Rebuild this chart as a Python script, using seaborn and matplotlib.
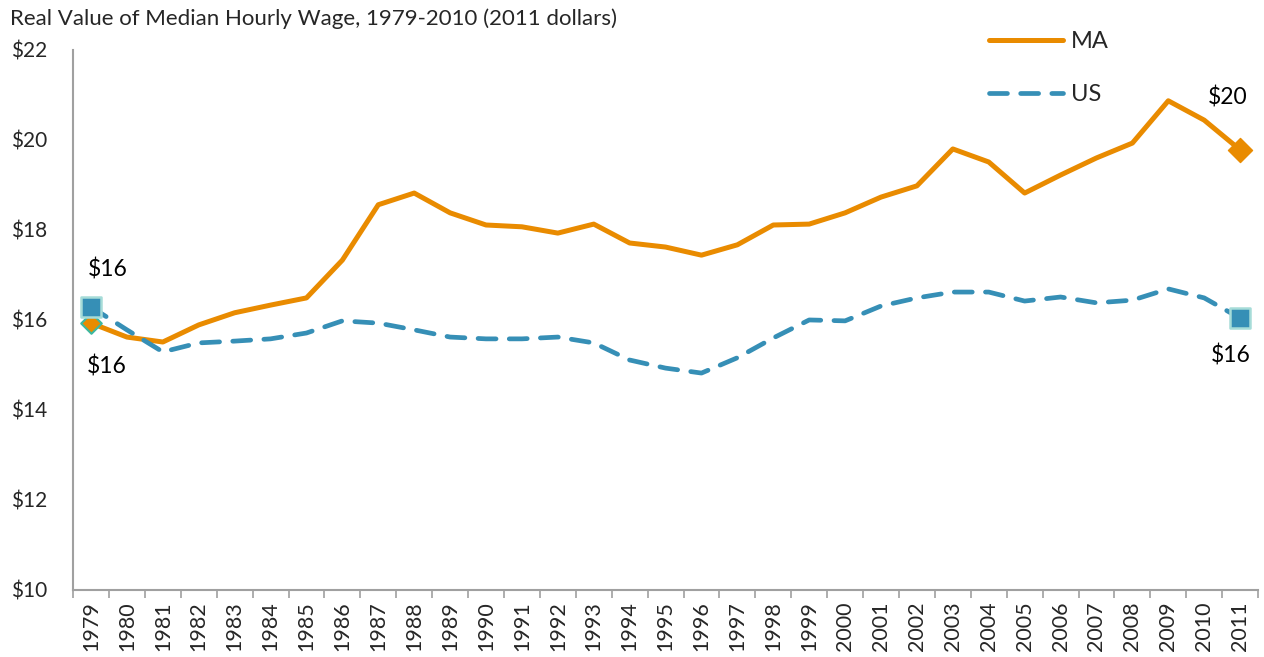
import matplotlib
matplotlib.use("Agg")
import matplotlib.pyplot as plt
import seaborn as sns
import pandas as pd
import numpy as np

# dados
anos = list(range(1979, 2012))
ma = [15.93, 15.62, 15.51, 15.89, 16.16, 16.33, 16.49, 17.33, 18.56, 18.82,
      18.38, 18.11, 18.07, 17.93, 18.13, 17.71, 17.62, 17.44, 17.67, 18.11,
      18.13, 18.38, 18.73, 18.98, 19.80, 19.51, 18.82, 19.22, 19.60, 19.93,
      20.87, 20.44, 19.78]
us = [16.29, 15.78, 15.29, 15.49, 15.53, 15.58, 15.71, 15.98, 15.93, 15.78,
      15.62, 15.58, 15.58, 15.62, 15.49, 15.11, 14.93, 14.82, 15.16, 15.60,
      16.00, 15.98, 16.31, 16.49, 16.62, 16.62, 16.42, 16.51, 16.38, 16.44,
      16.69, 16.49, 16.04]
y_ticks = [10, 12, 14, 16, 18, 20, 22]
titulo = "Real Value of Median Hourly Wage, 1979-2010 (2011 dollars)"

cor_ma = "#E98B00"
cor_us = "#368FB6"
cor_borda = "#A6DCD8"

df = pd.DataFrame({"ano": anos, "MA": ma, "US": us})

sns.set_theme(style="white")
plt.rcParams["font.family"] = ["Lato", "DejaVu Sans"]

fig = plt.figure(figsize=(12.64, 6.57), dpi=100)
ax = fig.add_axes([0.0578, 0.102, 0.9375, 0.822])

sns.lineplot(data=df, x="ano", y="MA", ax=ax, color=cor_ma, linewidth=3.6,
             label="MA", solid_capstyle="round")
sns.lineplot(data=df, x="ano", y="US", ax=ax, color=cor_us, linewidth=3.4,
             label="US")
linha_us = ax.lines[1]
linha_us.set_dashes((3.8, 2.8))
linha_us.set_dash_capstyle("round")

# marcadores nas pontas
ext = df.iloc[[0, -1]]
sns.scatterplot(x=ext["ano"].iloc[[0]], y=ext["MA"].iloc[[0]], ax=ax, marker="D",
                s=110, color=cor_ma, edgecolor="#3CB8A0", linewidth=1.5, zorder=5)
sns.scatterplot(x=ext["ano"].iloc[[1]], y=ext["MA"].iloc[[1]], ax=ax, marker="D",
                s=150, color=cor_ma, edgecolor=cor_ma, linewidth=1, zorder=5)
sns.scatterplot(x=ext["ano"], y=ext["US"], ax=ax, marker="s", s=190,
                color=cor_us, edgecolor=cor_borda, linewidth=1.8, zorder=6)

# rotulos de dados
rotulos = [
    (anos[0], us[0], (12, 27)),
    (anos[0], ma[0], (11, -31)),
    (anos[-1], ma[-1], (-9, 38)),
    (anos[-1], us[-1], (-7, -27)),
]
for x, y, off in rotulos:
    ax.annotate(f"${y:.0f}", (x, y), xytext=off, textcoords="offset points",
                ha="center", va="center", fontsize=16.5, color="black")

ax.set_xlim(1978.5, 2011.5)
ax.set_ylim(10, 22)
ax.set_yticks(y_ticks)
ax.set_yticklabels([f"${v}" for v in y_ticks], fontsize=15)
ax.set_xticks(anos)
ax.set_xticklabels([str(a) for a in anos], rotation=90, fontsize=15.5)
ax.set_xticks(np.arange(1978.5, 2012, 1), minor=True)
ax.tick_params(axis="x", which="major", length=0, pad=8)
ax.tick_params(axis="x", which="minor", length=6, color="#a0a0a0", width=1.2,
               direction="out", bottom=True)
ax.tick_params(axis="y", length=0, pad=45)
for lab in ax.get_yticklabels():
    lab.set_horizontalalignment("left")
ax.set_xlabel("")
ax.set_ylabel("")

for s in ["top", "right"]:
    ax.spines[s].set_visible(False)
for s in ["left", "bottom"]:
    ax.spines[s].set_color("#a0a0a0")
    ax.spines[s].set_linewidth(1.5)

leg = ax.legend(loc="upper left", bbox_to_anchor=(0.766, 0.985),
                bbox_transform=fig.transFigure, frameon=False, fontsize=17,
                handlelength=3.1, labelspacing=1.35, handletextpad=0.35)

fig.text(0.008, 0.972, titulo, fontsize=16, ha="left", va="center")

fig.savefig("out.png", dpi=100)
